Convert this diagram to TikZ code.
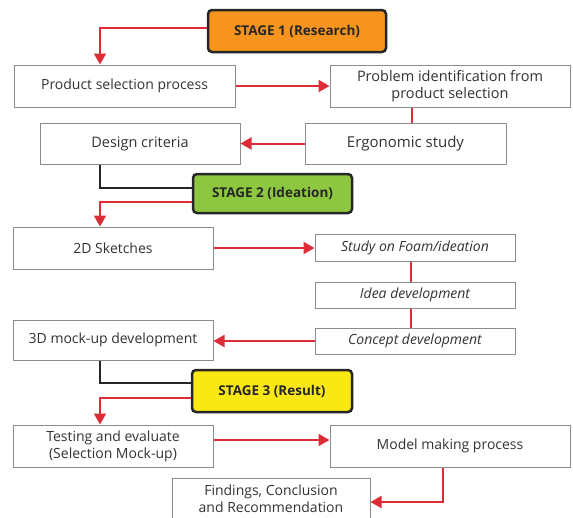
\documentclass[tikz,border=0pt]{standalone}
\usepackage{fontspec}
\setmainfont{Open Sans}
\usetikzlibrary{arrows.meta}
\definecolor{arrred}{RGB}{220,45,55}
\definecolor{stor}{RGB}{247,148,29}
\definecolor{stgr}{RGB}{141,198,63}
\definecolor{stye}{RGB}{250,232,20}
\definecolor{bord}{RGB}{140,140,140}
\tikzset{
  box/.style={draw=bord, line width=1pt, fill=white, inner sep=1pt, align=center, text=black!80, font=\fontsize{14}{17}\selectfont},
  ibox/.style={box, font=\fontsize{14}{17}\selectfont\itshape},
  stagebox/.style={draw=black!85, line width=2.5pt, rounded corners=4pt, align=center, inner sep=1pt, text=black!85, font=\fontsize{13.5}{15}\selectfont\bfseries, minimum width=#1},
  arr/.style={draw=arrred, line width=2pt, -{Triangle[length=11pt,width=12pt]}},
  rline/.style={draw=arrred, line width=2pt},
  bline/.style={draw=black!85, line width=2pt},
}
\begin{document}
\begin{tikzpicture}[x=1pt,y=-1pt]
\useasboundingbox (0,0) rectangle (573,517);
% stage 1
\node[stagebox=178pt, fill=stor, minimum height=42pt] (s1) at (297,31) {STAGE 1 (Research)};
\node[box, minimum width=221pt, minimum height=42pt] (ps) at (124.5,86) {Product selection process};
\node[box, minimum width=240pt, minimum height=42pt, font=\fontsize{14.5}{17}\selectfont] (pi) at (450,86) {Problem identification from\\product selection};
\node[box, minimum width=201pt, minimum height=41pt, font=\fontsize{15}{17}\selectfont] (eg) at (405.5,143.5) {Ergonomic study};
\node[box, minimum width=200pt, minimum height=41pt, font=\fontsize{14.5}{17}\selectfont] (dc) at (140,143.5) {Design criteria};
% stage 2
\node[stagebox=159pt, fill=stgr, minimum height=39pt] (s2) at (272.5,193.5) {STAGE 2 (Ideation)};
\node[box, minimum width=200pt, minimum height=42pt] (sk) at (113,248) {2D Sketches};
\node[ibox, minimum width=200pt, minimum height=27pt] (st) at (415,247.5) {Study on Foam/ideation};
\node[ibox, minimum width=200pt, minimum height=26pt] (id) at (415,295) {Idea development};
\node[ibox, minimum width=200pt, minimum height=26pt] (cd) at (415,341) {Concept development};
\node[box, minimum width=200pt, minimum height=40pt] (md) at (113,340) {3D mock-up development};
% stage 3
\node[stagebox=160pt, fill=stye, minimum height=42pt] (s3) at (272,391) {STAGE 3 (Result)};
\node[box, minimum width=200pt, minimum height=42pt] (te) at (113,446) {Testing and evaluate\\(Selection Mock-up)};
\node[box, minimum width=240pt, minimum height=42pt] (mm) at (450,446) {Model making process};
\node[box, minimum width=198pt, minimum height=42pt] (fi) at (271,499) {Findings, Conclusion\\and Recommendation};
% connectors
\draw[arr] ([yshift=3pt]s1.west) -| ([xshift=-24.5pt]ps.north);
\draw[arr] (ps.east) -- (pi.west);
\draw[rline] ([xshift=-38pt]pi.south) -- ([xshift=-38pt]pi.south |- eg.north);
\draw[arr] (eg.west) -- (dc.east);
\draw[bline] ([xshift=-40pt]dc.south) |- ([yshift=5.5pt]s2.west);
\draw[arr] ([yshift=-8.5pt]s2.west) -| ([xshift=-13pt]sk.north);
\draw[arr] (sk.east) -- (sk.east -| st.west);
\draw[rline] ([xshift=-4pt]st.south) -- ([xshift=-4pt]id.north);
\draw[rline] ([xshift=-4pt]id.south) -- ([xshift=-4pt]cd.north);
\draw[arr] (cd.west) -- (cd.west -| md.east);
\draw[bline] ([xshift=-13pt]md.south) |- ([yshift=8pt]s3.west);
\draw[arr] ([yshift=-7pt]s3.west) -| ([xshift=-13pt]te.north);
\draw[arr] ([yshift=6pt]te.east) -- ([yshift=6pt]te.east -| mm.west);
\draw[arr] ([xshift=-7pt]mm.south) |- ([yshift=-3pt]fi.east);
\end{tikzpicture}
\end{document}
